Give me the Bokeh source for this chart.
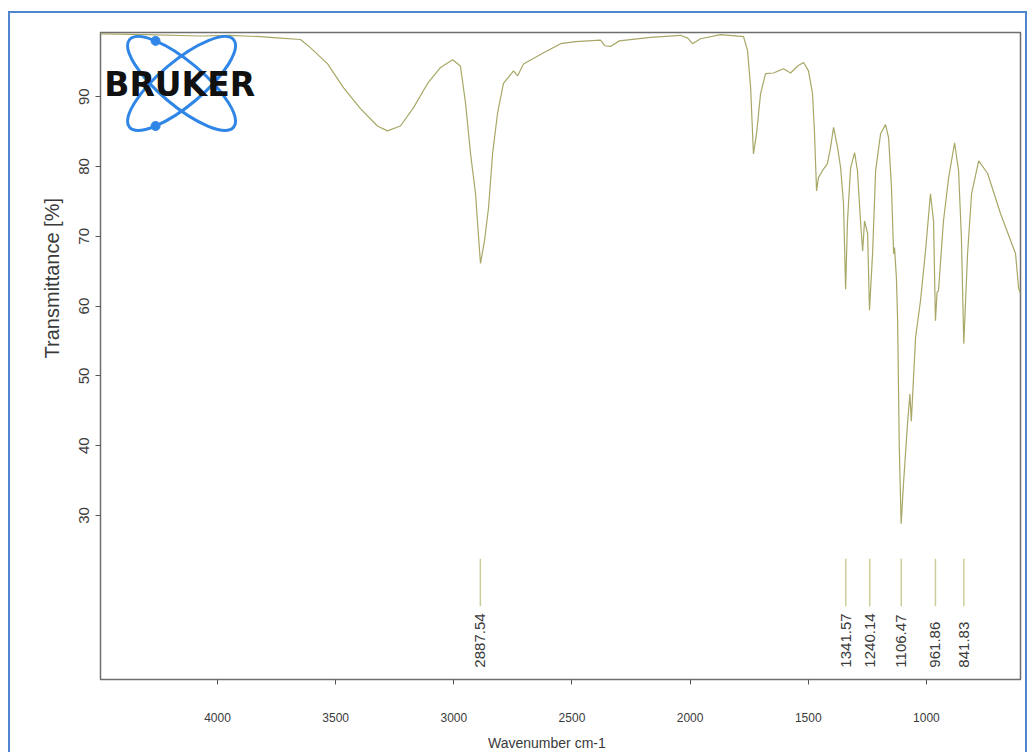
import math
from bokeh.plotting import figure
from bokeh.models import Range1d, FixedTicker, ColumnDataSource
from bokeh.embed import file_html
from bokeh.resources import INLINE
from bokeh.core.properties import value

# ---------------- data ----------------
wavenumber = [
    4495, 4300, 4072, 3950, 3818, 3733, 3649, 3606, 3534, 3467, 3395, 3323, 3281,
    3226, 3171, 3111, 3056, 3005, 2972, 2950, 2929, 2908, 2895, 2887, 2870, 2853,
    2836, 2815, 2790, 2747, 2730, 2705, 2620, 2548, 2485, 2379, 2360, 2337, 2300,
    2168, 2041, 2010, 1990, 1956, 1871, 1774, 1757, 1744, 1732, 1719, 1702, 1681,
    1647, 1605, 1575, 1545, 1520, 1499, 1482, 1474, 1465, 1457, 1440, 1419, 1406,
    1393, 1376, 1363, 1351, 1342, 1334, 1321, 1304, 1292, 1279, 1270, 1262, 1249,
    1241, 1228, 1215, 1194, 1173, 1160, 1148, 1139, 1135, 1127, 1122, 1115, 1107,
    1097, 1080, 1070, 1064, 1046, 1025, 1004, 983, 970, 962, 955, 949, 928, 906,
    881, 864, 852, 842, 826, 809, 779, 741, 686, 623, 610, 602,
]
transmittance = [
    99.0, 98.9, 98.7, 98.8, 98.6, 98.4, 98.2, 97.0, 94.7, 91.3, 88.3, 85.8, 85.1,
    85.8, 88.4, 91.9, 94.2, 95.3, 94.4, 89.0, 81.8, 76.1, 69.8, 66.1, 69.4, 74.1,
    81.8, 87.6, 91.9, 93.7, 93.0, 94.7, 96.3, 97.6, 97.9, 98.1, 97.3, 97.2, 98.0,
    98.5, 98.8, 98.4, 97.6, 98.3, 98.9, 98.6, 96.6, 91.3, 81.8, 84.7, 90.4, 93.3,
    93.4, 94.0, 93.4, 94.4, 94.9, 93.7, 90.4, 85.1, 76.5, 78.4, 79.4, 80.4, 82.7,
    85.6, 82.7, 79.8, 74.7, 62.4, 72.2, 79.8, 82.0, 79.4, 72.2, 67.9, 72.2, 70.4,
    59.4, 67.5, 79.4, 84.7, 86.0, 84.1, 77.0, 67.5, 68.4, 64.0, 58.0, 40.0, 28.8,
    34.6, 43.2, 47.4, 43.5, 55.5, 60.8, 67.9, 76.1, 72.2, 57.9, 62.0, 62.2, 72.2, 78.4,
    83.4, 79.4, 69.8, 54.6, 67.5, 76.1, 80.8, 79.0, 73.2, 67.5, 62.6, 61.8,
]
peak_positions = [2887.54, 1341.57, 1240.14, 1106.47, 961.86, 841.83]
peak_labels = ["2887.54", "1341.57", "1240.14", "1106.47", "961.86", "841.83"]
x_ticks = [4000, 3500, 3000, 2500, 2000, 1500, 1000]
y_ticks = [30, 40, 50, 60, 70, 80, 90]
x_title = "Wavenumber cm-1"
y_title = "Transmittance [%]"

# ---------------- figure ----------------
p = figure(
    width=1019, height=741,
    x_range=Range1d(4495, 602), y_range=Range1d(6.5, 99.2),
    output_backend="svg", toolbar_location=None,
    min_border_left=90, min_border_right=9, min_border_top=19, min_border_bottom=75,
    background_fill_color="white", border_fill_color="white",
)
p.margin = (11, 0, 0, 8)
p.styles = {
    "border-left": "2px solid #4f86cf",
    "border-top": "2px solid #4f86cf",
    "border-right": "2px solid #4f86cf",
}
p.grid.visible = False
p.outline_line_color = "#6e6e6e"
p.outline_line_width = 1.5

FONT = "Liberation Sans"
TXT = "#3a3a3a"
NB = "\u00a0"

xa = p.xaxis[0]
xa.ticker = FixedTicker(ticks=x_ticks)
xa.axis_label = x_title + NB * 7
xa.axis_line_color = None
xa.major_tick_line_color = "#555555"
xa.major_tick_out = 5
xa.major_tick_in = 0
xa.minor_tick_line_color = None
xa.major_label_standoff = 28
xa.axis_label_standoff = 10
xa.major_label_text_font = FONT
xa.major_label_text_font_size = "12px"
xa.major_label_text_color = TXT
xa.axis_label_text_font = FONT
xa.axis_label_text_font_size = "14px"
xa.axis_label_text_font_style = "normal"
xa.axis_label_text_color = TXT

ya = p.yaxis[0]
ya.ticker = FixedTicker(ticks=y_ticks)
ya.axis_label = NB * 28 + y_title
ya.axis_line_color = None
ya.major_tick_line_color = "#555555"
ya.major_tick_out = 5
ya.major_tick_in = 0
ya.minor_tick_line_color = None
ya.major_label_orientation = "vertical"
ya.major_label_standoff = 6
ya.axis_label_standoff = 14
ya.major_label_text_font = FONT
ya.major_label_text_font_size = "15px"
ya.major_label_text_color = TXT
ya.axis_label_text_font = FONT
ya.axis_label_text_font_size = "20px"
ya.axis_label_text_font_style = "normal"
ya.axis_label_text_color = TXT

# spectrum
src = ColumnDataSource(dict(x=wavenumber, y=transmittance))
p.line("x", "y", source=src, line_color="#a8a766", line_width=1.2)

# peak markers
p.segment(x0=peak_positions, y0=[23.8] * len(peak_positions),
          x1=peak_positions, y1=[17.0] * len(peak_positions),
          line_color="#cdcd9c", line_width=1.5)
p.text(x=peak_positions, y=[8.2] * len(peak_positions), text=peak_labels,
       angle=math.pi / 2, text_align="left", text_baseline="middle",
       text_font=value(FONT), text_font_size="15px", text_color=TXT)

# Bruker logo (decoration)
logo_blue = "#2f86e6"
p.ellipse(x=[4152, 4152], y=[91.9, 91.9], width=[136, 136], height=[44, 44],
          angle=[-0.70, 0.70], width_units="screen", height_units="screen",
          fill_color=None, line_color=logo_blue, line_width=3)
p.scatter(x=[4262, 4262], y=[98.0, 85.8], size=9, marker="circle",
          fill_color=logo_blue, line_color=logo_blue)
p.text(x=[4160], y=[91.7], text=["BRUKER"], text_align="center",
       text_baseline="middle", text_font=value("DejaVu Sans"),
       text_font_style="bold", text_font_size="33px", text_color="#111111")

open("out.html", "w").write(file_html(p, INLINE))
